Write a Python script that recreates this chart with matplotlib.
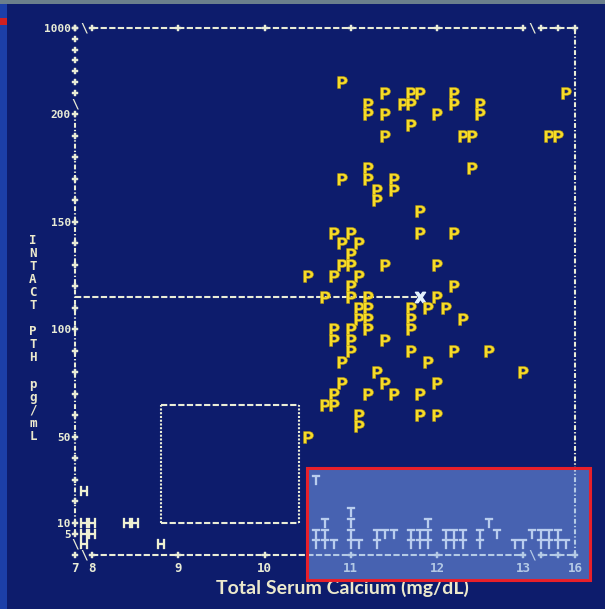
import numpy as np
import matplotlib
matplotlib.use("Agg")
import matplotlib.pyplot as plt
from matplotlib.patches import Rectangle

# ---------------- data (calcium mg/dL, intact PTH pg/mL) ----------------
p_calcium = [10.9,
             11.4, 11.7, 11.8, 12.2, 15.5,
             11.2, 11.6, 11.7, 12.2, 12.5,
             11.2, 11.4, 12.0, 12.5,
             11.7,
             11.4, 12.3, 12.4, 14.5, 15.0,
             11.2, 12.4,
             10.9, 11.2, 11.5,
             11.3, 11.5,
             11.3,
             11.8,
             10.8, 11.0, 11.8, 12.2,
             10.9, 11.1,
             11.0,
             10.9, 11.0, 11.4, 12.0,
             10.5, 10.8, 11.1,
             11.0, 12.2,
             10.7, 11.0, 11.2, 12.0,
             11.1, 11.2, 11.7, 11.9, 12.1,
             11.1, 11.2, 11.7, 12.3,
             10.8, 11.0, 11.2, 11.7,
             10.8, 11.0, 11.4,
             11.0, 11.7, 12.2, 12.6,
             10.9, 11.9,
             11.3, 13.0,
             10.9, 11.4, 12.0,
             10.8, 11.2, 11.5, 11.8,
             10.7, 10.8,
             11.1, 11.8, 12.0,
             11.1,
             10.5]
p_pth = [500,
         400, 400, 400, 400, 400,
         300, 300, 300, 300, 300,
         200, 200, 200, 200,
         195,
         190, 190, 190, 190, 190,
         175, 175,
         170, 170, 170,
         165, 165,
         160,
         155,
         145, 145, 145, 145,
         140, 140,
         135,
         130, 130, 130, 130,
         125, 125, 125,
         120, 120,
         115, 115, 115, 115,
         110, 110, 110, 110, 110,
         105, 105, 105, 105,
         100, 100, 100, 100,
         95, 95, 95,
         90, 90, 90, 90,
         85, 85,
         80, 80,
         75, 75, 75,
         70, 70, 70, 70,
         65, 65,
         60, 60, 60,
         55,
         50]

t_calcium = [10.6, 10.6, 10.6, 10.7, 10.7, 10.7, 10.8,
             11.0, 11.0, 11.0, 11.0, 11.1,
             11.3, 11.3, 11.4, 11.5,
             11.7, 11.7, 11.8, 11.8, 11.9, 11.9, 11.9,
             12.1, 12.1, 12.2, 12.2, 12.3, 12.3,
             12.5, 12.5, 12.6, 12.7,
             12.9, 13.0,
             13.5, 14.0, 14.0, 14.5, 14.5, 15.0, 15.0, 15.5]
t_pth = [30, 5, 0, 10, 5, 0, 0,
         15, 10, 5, 0, 0,
         5, 0, 5, 5,
         5, 0, 5, 0, 10, 5, 0,
         5, 0, 5, 0, 5, 0,
         5, 0, 10, 5,
         0, 0,
         5, 5, 0, 5, 0, 5, 0, 0]

h_calcium = [7.5, 7.5, 8.0, 8.4, 8.5, 7.5, 8.0, 7.5, 8.8]
h_pth = [25, 10, 10, 10, 10, 5, 5, 0, 0]

mean_calcium = [11.8]
mean_pth = [115]

normal_calcium = [8.8, 10.4]
normal_pth = [10, 65]

x_tick_values = [7, 8, 9, 10, 11, 12, 13, 16]
x_tick_labels = ["7", "8", "9", "10", "11", "12", "13", "16"]
x_plus_values = [7, 8, 9, 10, 11, 12, 13, 14, 15, 16]
x_break_values = [7.5, 13.5]
y_tick_values = [5, 10, 50, 100, 150, 200, 1000]
y_tick_labels = ["5", "10", "50", "100", "150", "200", "1000"]
y_plus_values = [5, 10, 20, 30, 40, 50, 60, 70, 80, 90, 100, 110, 120, 130,
                 140, 150, 160, 170, 180, 190, 200,
                 400, 500, 600, 700, 800, 900, 1000]
y_break_values = [300, 0]

x_title = "Total Serum Calcium (mg/dL)"
y_title_words = ["INTACT", "PTH", "pg/mL"]

# ---------------- broken (piecewise linear) axis scales ----------------
X_IN, X_OUT = [7, 8, 13, 14, 16], [7.8, 8.0, 13.0, 13.2, 13.6]
Y_IN, Y_OUT = [-5, 200, 1000], [-5, 200, 240.2]


def piecewise(xin, xout):
    xin = np.asarray(xin, float)
    xout = np.asarray(xout, float)
    s0 = (xout[1] - xout[0]) / (xin[1] - xin[0])
    s1 = (xout[-1] - xout[-2]) / (xin[-1] - xin[-2])

    def f(v):
        v = np.asarray(v, float)
        r = np.interp(v, xin, xout)
        r = np.where(v < xin[0], xout[0] + (v - xin[0]) * s0, r)
        r = np.where(v > xin[-1], xout[-1] + (v - xin[-1]) * s1, r)
        return r
    return f


fx, fx_inv = piecewise(X_IN, X_OUT), piecewise(X_OUT, X_IN)
fy, fy_inv = piecewise(Y_IN, Y_OUT), piecewise(Y_OUT, Y_IN)

# ---------------- style ----------------
plt.rcParams["lines.scale_dashes"] = False
BG = "#0d1c6c"
LC = "#e9ecd6"
MONO = "DejaVu Sans Mono"
W, H = 605, 609

fig = plt.figure(figsize=(W / 100, H / 100), dpi=100, facecolor=BG)
ax = fig.add_axes([75 / W, 1 - 555 / H, 500 / W, 527 / H])
ax.set_xscale("function", functions=(fx, fx_inv))
ax.set_yscale("function", functions=(fy, fy_inv))
ax.set_xlim(7, 16)
ax.set_ylim(-5, 1000)
ax.patch.set_visible(False)
for s in ax.spines.values():
    s.set_visible(False)

dash_h = (0, (4.5, 1.7))
dot_v = (0, (3.5, 1.5, 1.0, 1.5))
kw = dict(color=LC, lw=1.5, clip_on=False, zorder=2)
plus_kw = dict(ls="none", marker="P", ms=4.8, mec=LC, mfc=LC, mew=0.3,
               clip_on=False, zorder=3)

# frame: top and bottom dashed lines (broken at the axis breaks)
for yv in (-5, 1000):
    ax.plot([8, 13], [yv, yv], ls=dash_h, **kw)
    ax.plot([14, 16], [yv, yv], ls=dash_h, **kw)
    ax.plot(x_plus_values, [yv] * len(x_plus_values), **plus_kw)
    for xb in x_break_values:
        ax.text(xb, yv, "\\", color=LC, fontsize=9, family=MONO, weight="bold",
                ha="center", va="center", clip_on=False)
# left axis
ax.plot([7, 7], [5, 200], ls=dot_v, **kw)
ax.plot([7] * len(y_plus_values), y_plus_values, **plus_kw)
for yb in y_break_values:
    ax.text(7, yb, "\\", color=LC, fontsize=9, family=MONO, weight="bold",
            ha="center", va="center", clip_on=False)
# right axis
ax.plot([16, 16], [-5, 1000], ls=dot_v, **kw)

# ticks / labels via the axis
ax.set_xticks(x_tick_values, x_tick_labels)
ax.set_yticks(y_tick_values, y_tick_labels)
ax.minorticks_off()
ax.tick_params(axis="both", length=0, labelcolor=LC)
ax.tick_params(axis="x", pad=5, labelsize=9)
ax.tick_params(axis="y", pad=3, labelsize=8)
for lab in ax.get_xticklabels() + ax.get_yticklabels():
    lab.set_fontfamily(MONO)
    lab.set_fontweight("bold")

# normal range box
ax.plot(normal_calcium, [normal_pth[1]] * 2, ls=dash_h, **kw)
ax.plot(normal_calcium, [normal_pth[0]] * 2, ls=dash_h, **kw)
for xv in normal_calcium:
    ax.plot([xv, xv], normal_pth, ls=(0, (1.5, 1.2)), **kw)

# mean reference line and X marker
ax.plot([7, mean_calcium[0]], [mean_pth[0]] * 2, ls=dash_h, **kw)
ax.plot(mean_calcium, mean_pth, ls="none", marker=r"$\mathbf{X}$", ms=7.5,
        color="#e4f2ff", zorder=4)

# data symbols
ax.plot(p_calcium, p_pth, ls="none", marker=r"$\mathbf{P}$", ms=8.5,
        mfc="#f6dc2a", mec="#b89a10", mew=0.4, zorder=5, clip_on=False)
ax.plot(t_calcium, t_pth, ls="none", marker=r"$\mathbf{T}$", ms=6.5,
        mfc="#f2f2e6", mec="#f2f2e6", mew=0.2, zorder=5, clip_on=False)
ax.plot(h_calcium, h_pth, ls="none", marker=r"$\mathbf{H}$", ms=7,
        mfc="#eef0d2", mec="#eef0d2", mew=0.2, zorder=5, clip_on=False)

# axis titles
fig.text(342 / W, 1 - 588 / H, x_title, color="#ece9cc", fontsize=14,
         family="Lato", weight="bold", ha="center", va="center")
y_chars = list(y_title_words[0]) + [" "] + list(y_title_words[1]) + [" "] + list(y_title_words[2])
for i, ch in enumerate(y_chars):
    fig.text(33 / W, 1 - (240 + i * 13.1) / H, ch, color="#ece9cc",
             fontsize=9, family=MONO, weight="bold", ha="center", va="center")

# photo borders
fig.patches.append(Rectangle((0, 1 - 4 / H), 1, 4 / H, transform=fig.transFigure,
                             fc="#6b7f8c", ec="none", zorder=0))
fig.patches.append(Rectangle((0, 0), 7 / W, 1 - 4 / H, transform=fig.transFigure,
                             fc="#1c3fa8", ec="none", zorder=0))
fig.patches.append(Rectangle((0, 1 - 25 / H), 7 / W, 7 / H, transform=fig.transFigure,
                             fc="#d02020", ec="none", zorder=0))

# highlight overlay
fig.patches.append(Rectangle((307 / W, 1 - 580 / H), 283 / W, 112 / H,
                             transform=fig.transFigure, fc="#81a9f6", alpha=0.5,
                             ec="none", zorder=10))
fig.patches.append(Rectangle((307 / W, 1 - 580 / H), 283 / W, 112 / H,
                             transform=fig.transFigure, fc="none",
                             ec="#e8202a", lw=2.2, zorder=11))

fig.savefig("out.png", dpi=100, facecolor=BG)
